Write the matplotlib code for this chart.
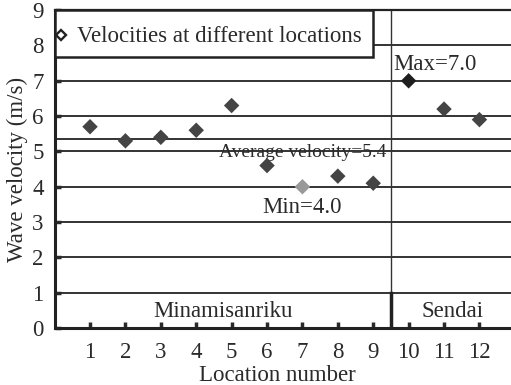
import matplotlib
matplotlib.use("Agg")
import matplotlib.pyplot as plt
from matplotlib.patches import Rectangle

locations = [1, 2, 3, 4, 5, 6, 7, 8, 9, 10, 11, 12]
velocities = [5.7, 5.3, 5.4, 5.6, 6.3, 4.6, 4.0, 4.3, 4.1, 7.0, 6.2, 5.9]
average = 5.36
average_label = 5.4
regions = ["Minamisanriku", "Sendai"]
region_split = 9.5
y_ticks = [0, 1, 2, 3, 4, 5, 6, 7, 8, 9]

plt.rcParams['font.family'] = ['Liberation Serif', 'DejaVu Serif']

fig = plt.figure(figsize=(5.11, 3.85), dpi=100)
ax = fig.add_axes([0.1069, 0.148, 0.9006, 0.8256])
ax.set_xlim(0, 13)
ax.set_ylim(0, 9)

fs = 16.5
tc = '#2a2a2a'

# grid lines
for yv in y_ticks[1:9]:
    ax.axhline(yv, color='#333333', lw=1.4, zorder=1)
ax.axhline(average, color='#333333', lw=1.4, zorder=1)

# region separator
ax.plot([region_split, region_split], [1, 9], color='#333333', lw=1.0, zorder=1)
ax.plot([region_split, region_split], [0, 1], color='#222222', lw=2.5, zorder=1)

imax = velocities.index(max(velocities))
imin = velocities.index(min(velocities))
colors = []
for i in range(len(velocities)):
    if i == imax:
        colors.append('#1e1e1e')
    elif i == imin:
        colors.append('#999999')
    else:
        colors.append('#444444')
ax.scatter(locations, velocities, marker='D', s=62, c=colors, zorder=3, linewidths=0)

# legend box
ax.add_patch(Rectangle((0, 7.67), 9.0, 1.33, facecolor='white', edgecolor='#222222',
                       lw=1.8, zorder=4))
ax.plot([0.17], [8.3], marker='D', ms=5.5, mfc='white', mec='#222222', mew=1.7, zorder=5)
ax.text(0.64, 8.1, "Velocities at different locations", fontsize=fs, va='baseline',
        ha='left', zorder=5, color=tc)

ax.text(9.56, 7.31, "Max=%.1f" % max(velocities),
        fontsize=fs, ha='left', va='baseline', color=tc, zorder=5)
ax.text(7.0, 4.84, "Average velocity=%.1f" % average_label, fontsize=14, ha='center',
        va='baseline', color=tc, zorder=2)
ax.text(locations[imin], 3.26, "Min=%.1f" % min(velocities),
        fontsize=fs, ha='center', va='baseline', color=tc, zorder=5)

ax.text(region_split / 2, 0.31, regions[0], fontsize=fs, ha='center', va='baseline', color=tc)
ax.text((region_split + 13) / 2, 0.31, regions[1], fontsize=fs, ha='center', va='baseline', color=tc)

ax.set_xticks(locations)
ax.set_xticklabels([str(l) for l in locations])
ax.set_yticks(y_ticks)
ax.tick_params(axis='both', direction='in', length=4, width=2.5, labelsize=fs,
               colors=tc, pad=8)
ax.tick_params(axis='x', pad=10)
ax.spines['right'].set_visible(False)
ax.spines['left'].set_linewidth(2.2)
ax.spines['bottom'].set_linewidth(2.2)
ax.spines['top'].set_linewidth(1.6)
for s in ax.spines.values():
    s.set_color('#222222')

ax.set_xlabel("Location number", fontsize=fs, color=tc)
ax.set_ylabel("Wave velocity (m/s)", fontsize=fs, color=tc)
ax.xaxis.set_label_coords(0.484, -0.115)
ax.yaxis.set_label_coords(-0.058, 0.5)

fig.savefig("out.png", dpi=100)
